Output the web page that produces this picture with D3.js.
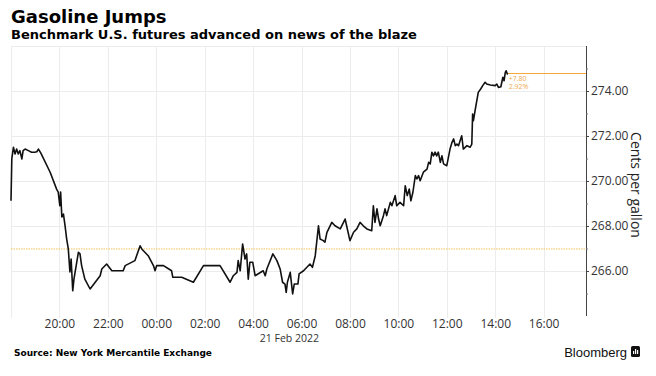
<!DOCTYPE html>
<html>
<head>
<meta charset="utf-8">
<script src="https://cdn.jsdelivr.net/npm/d3@7"></script>
<style>
  html, body { margin: 0; padding: 0; background: #fff; }
  svg { display: block; }
</style>
</head>
<body>
<svg id="chart" width="656" height="376"></svg>
<script>
// ---- Data ----
const times = ["18:00","18:02","18:06","18:10","18:14","18:18","18:22","18:27","18:30","18:35","18:43","18:51","18:59","19:04","19:08","19:14","19:37","19:53","19:57","20:01","20:03","20:06","20:10","20:14","20:18","20:22","20:26","20:29","20:33","20:36","20:43","20:47","20:51","20:55","21:03","21:16","21:41","21:45","21:57","22:10","22:38","22:43","23:07","23:20","23:24","23:40","23:53","23:57","00:01","00:18","00:38","00:41","01:03","01:32","01:57","02:01","02:38","03:03","03:11","03:20","03:23","03:28","03:34","03:40","03:44","03:48","03:52","03:59","04:05","04:25","04:30","04:34","04:49","04:59","05:07","05:13","05:19","05:22","05:25","05:32","05:38","05:42","05:51","05:54","06:05","06:21","06:27","06:34","06:42","06:46","06:54","06:58","07:03","07:15","07:23","07:36","07:48","08:00","08:09","08:17","08:25","08:33","08:42","08:54","08:58","09:02","09:07","09:11","09:15","09:23","09:27","09:31","09:40","09:44","09:52","09:56","10:04","10:13","10:17","10:22","10:27","10:31","10:36","10:42","10:46","10:50","10:54","11:02","11:11","11:15","11:19","11:23","11:27","11:31","11:35","11:39","11:44","11:48","11:52","12:00","12:08","12:13","12:17","12:21","12:25","12:29","12:37","12:41","12:50","12:58","13:02","13:04","13:06","13:10","13:18","13:24","13:29","13:35","13:39","13:48","14:00","14:04","14:08","14:14","14:19","14:22","14:25","14:27","14:30","14:31"];
const prices = [269.12,270.98,271.50,271.20,271.42,271.20,271.35,270.98,271.35,271.42,271.35,271.28,271.28,271.30,271.42,271.24,270.39,269.64,269.51,268.90,269.51,268.40,268.53,268.01,267.42,266.98,265.96,266.53,265.12,265.64,266.39,266.83,266.76,266.24,265.64,265.20,265.79,266.09,266.31,266.01,266.01,266.24,266.46,267.12,266.98,266.68,266.24,266.01,266.24,266.24,266.01,265.72,265.72,265.50,266.24,266.24,266.24,265.50,265.79,265.94,266.46,266.01,267.20,266.53,266.76,265.64,266.39,266.39,265.79,266.01,265.79,266.09,266.76,266.46,266.09,265.50,265.42,265.05,265.50,265.94,264.98,265.42,265.42,265.87,266.01,266.31,266.16,266.68,268.01,267.42,267.35,267.28,267.72,268.16,268.01,267.87,268.31,267.35,267.72,267.87,268.16,268.01,267.87,267.79,268.90,268.16,268.76,268.31,268.01,268.46,268.76,268.46,269.05,268.90,269.35,268.90,269.05,268.90,269.79,269.35,269.64,269.12,269.50,270.24,270.09,270.24,270.01,270.39,270.53,270.83,270.76,271.28,271.12,271.28,271.12,271.28,270.83,271.12,270.76,270.68,271.42,271.72,271.87,271.57,271.64,271.57,272.01,271.42,271.57,271.50,271.64,272.98,272.68,273.12,273.94,274.09,274.24,274.39,274.31,274.27,274.24,274.31,274.16,274.19,274.61,274.46,274.83,274.90,274.76,274.78];
const prevClose = 266.98;
const lastPrice = 274.78;
const changeLabel = "+7.80";
const changePctLabel = "2.92%";
const yTickValues = [266, 268, 270, 272, 274];
const yGridValues = [266, 268, 270, 272, 274, 276];
const yMinorValues = [265, 267, 269, 271, 273, 275];
const xTickLabels = ["20:00","22:00","00:00","02:00","04:00","06:00","08:00","10:00","12:00","14:00","16:00"];
const xGridLabels = ["18:00","20:00","22:00","00:00","02:00","04:00","06:00","08:00","10:00","12:00","14:00","16:00"];
const dateLabel = "21 Feb 2022";
const dateLabelAt = "05:30";
const titleText = "Gasoline Jumps";
const subtitleText = "Benchmark U.S. futures advanced on news of the blaze";
const sourceText = "Source: New York Mercantile Exchange";
const yAxisTitle = "Cents per gallon";

// ---- Helpers ----
function toDate(hhmm) {
  const [h, m] = hhmm.split(":").map(Number);
  const day = h >= 18 ? 20 : 21;
  return new Date(2022, 1, day, h, m);
}
const data = times.map((t, i) => ({ t: toDate(t), v: prices[i] }));

const svg = d3.select("#chart");
const pLeft = 11, pRight = 586, pTop = 46, pBottom = 316;

const x = d3.scaleTime()
  .domain([new Date(2022, 1, 20, 18, 0), new Date(2022, 1, 21, 17, 45)])
  .range([pLeft, pRight]);
const y = d3.scaleLinear().domain([264, 276]).range([pBottom, pTop]);

// Gridlines
const grid = svg.append("g");
grid.selectAll("line.h").data(yGridValues).join("line")
  .attr("x1", pLeft).attr("x2", pRight)
  .attr("y1", d => Math.round(y(d)) + 0.5).attr("y2", d => Math.round(y(d)) + 0.5)
  .attr("stroke", "#ececec").attr("stroke-width", 1);
grid.selectAll("line.v").data(xGridLabels).join("line")
  .attr("x1", d => Math.round(x(toDate(d))) + 0.5).attr("x2", d => Math.round(x(toDate(d))) + 0.5)
  .attr("y1", pTop).attr("y2", pBottom + 2)
  .attr("stroke", "#ececec").attr("stroke-width", 1);

// Previous close line (dotted orange)
svg.append("line")
  .attr("x1", pLeft).attr("x2", pRight)
  .attr("y1", y(prevClose)).attr("y2", y(prevClose))
  .attr("stroke", "#f2c45a").attr("stroke-width", 1)
  .attr("stroke-dasharray", "1.5,1");

// Last price line
const last = data[data.length - 1];
svg.append("line")
  .attr("x1", x(last.t)).attr("x2", pRight)
  .attr("y1", Math.round(y(lastPrice)) + 0.5).attr("y2", Math.round(y(lastPrice)) + 0.5)
  .attr("stroke", "#f3a73c").attr("stroke-width", 1);

svg.append("text")
  .attr("x", x(last.t) + 1).attr("y", y(lastPrice) + 8)
  .attr("font-family", "'Open Sans', sans-serif").attr("font-size", 7)
  .attr("fill", "#f0a850").text(changeLabel);
svg.append("text")
  .attr("x", x(last.t) + 1).attr("y", y(lastPrice) + 16)
  .attr("font-family", "'Open Sans', sans-serif").attr("font-size", 7)
  .attr("fill", "#f0a850").text(changePctLabel);

// Price line
const line = d3.line().x(d => x(d.t)).y(d => y(d.v));
svg.append("path").datum(data)
  .attr("d", line).attr("fill", "none")
  .attr("stroke", "#111").attr("stroke-width", 1.6)
  .attr("stroke-linejoin", "round");

// Y axis (right)
const yAxis = svg.append("g").attr("transform", `translate(${pRight},0)`)
  .call(d3.axisRight(y).tickValues(yTickValues).tickSize(3).tickPadding(2).tickFormat(d => d.toFixed(2)));
yAxis.select(".domain").attr("d", `M0.5,${pTop}V${pBottom}`).attr("stroke", "#444");
yAxis.selectAll(".tick line").attr("stroke", "#444");
yAxis.selectAll(".tick text")
  .attr("font-family", "'Open Sans', sans-serif").attr("font-size", 12).attr("fill", "#333");
const yMinor = svg.append("g").attr("transform", `translate(${pRight},0)`)
  .call(d3.axisRight(y).tickValues(yMinorValues).tickSize(2).tickFormat(""));
yMinor.select(".domain").remove();
yMinor.selectAll(".tick line").attr("stroke", "#777");

svg.append("text")
  .attr("transform", `translate(631, ${(pTop + pBottom) / 2 + 4}) rotate(90)`)
  .attr("text-anchor", "middle")
  .attr("font-family", "'Open Sans', sans-serif").attr("font-size", 14).attr("fill", "#222")
  .text(yAxisTitle);

// X axis labels
const xAxis = svg.append("g").attr("transform", `translate(0,${pBottom})`)
  .call(d3.axisBottom(x).tickValues(xTickLabels.map(toDate)).tickSize(0).tickPadding(3)
    .tickFormat(d3.timeFormat("%H:%M")));
xAxis.select(".domain").remove();
xAxis.selectAll(".tick text")
  .attr("font-family", "'Open Sans', sans-serif").attr("font-size", 12).attr("fill", "#333");

svg.append("text")
  .attr("x", x(toDate(dateLabelAt))).attr("y", 342)
  .attr("text-anchor", "middle")
  .attr("font-family", "'Open Sans', sans-serif").attr("font-size", 10.5).attr("fill", "#333")
  .text(dateLabel);

// Titles
svg.append("text").attr("x", 11).attr("y", 23)
  .attr("font-family", "'DejaVu Sans', sans-serif").attr("font-weight", "bold")
  .attr("font-size", 18).attr("fill", "#000").text(titleText);
svg.append("text").attr("x", 11).attr("y", 39)
  .attr("font-family", "'DejaVu Sans', sans-serif").attr("font-weight", "bold")
  .attr("font-size", 13).attr("fill", "#000").text(subtitleText);

// Source
svg.append("text").attr("x", 14).attr("y", 356)
  .attr("font-family", "'DejaVu Sans', sans-serif").attr("font-weight", "bold")
  .attr("font-size", 9).attr("fill", "#000").text(sourceText);

// Bloomberg logo
svg.append("text").attr("x", 627).attr("y", 357)
  .attr("text-anchor", "end")
  .attr("font-family", "'Liberation Sans', Arial, sans-serif")
  .attr("font-size", 13).attr("fill", "#111").text("Bloomberg");
const logo = svg.append("g").attr("transform", "translate(631,346)");
logo.append("rect").attr("x", 0).attr("y", 0).attr("width", 9).attr("height", 11).attr("rx", 1.5).attr("fill", "#111");
logo.append("rect").attr("x", 2).attr("y", 5).attr("width", 1.2).attr("height", 3).attr("fill", "#fff");
logo.append("rect").attr("x", 4).attr("y", 3).attr("width", 1.2).attr("height", 5).attr("fill", "#fff");
logo.append("rect").attr("x", 6).attr("y", 4).attr("width", 1.2).attr("height", 4).attr("fill", "#fff");
</script>
</body>
</html>
